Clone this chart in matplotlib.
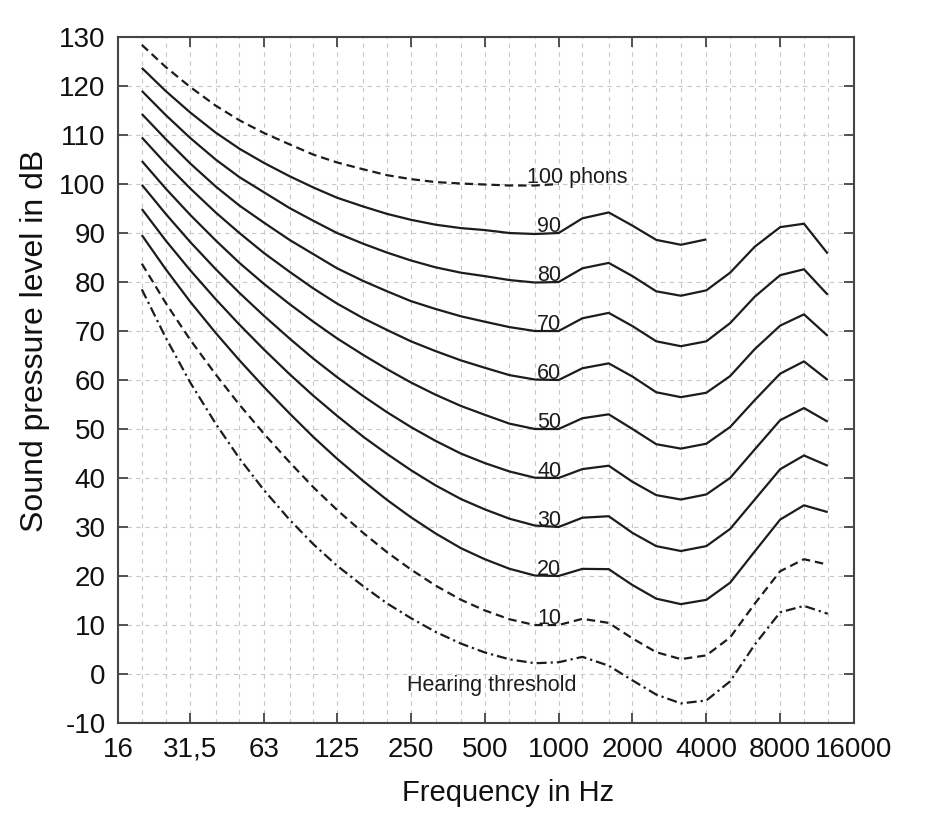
import matplotlib

matplotlib.use("Agg")
import matplotlib.pyplot as plt
from matplotlib.ticker import FixedLocator, NullFormatter

plt.rcParams["font.family"] = ["Liberation Sans", "DejaVu Sans"]
plt.rcParams["axes.unicode_minus"] = False

# third-octave band centres (Hz)
freqs = [20, 25, 31.5, 40, 50, 63, 80, 100, 125, 160, 200, 250, 315, 400, 500,
         630, 800, 1000, 1250, 1600, 2000, 2500, 3150, 4000, 5000, 6300, 8000,
         10000, 12500]

# equal-loudness contours, dB SPL
phon_100 = [128.4, 123.9, 119.8, 116.0, 113.0, 110.4, 108.1, 106.0, 104.4, 103.0,
            101.8, 101.0, 100.4, 100.1, 99.9, 99.7, 99.7, 100.0]
phon_90 = [123.7, 119.0, 114.6, 110.5, 107.2, 104.3, 101.6, 99.3, 97.2, 95.4, 93.9,
           92.7, 91.7, 91.0, 90.6, 90.0, 89.8, 90.0, 93.0, 94.2, 91.5, 88.6, 87.6, 88.7]
phon_80 = [119.0, 114.1, 109.4, 105.0, 101.4, 98.3, 95.1, 92.5, 90.0, 87.8, 86.0,
           84.4, 83.0, 81.9, 81.2, 80.4, 79.9, 80.0, 82.8, 83.9, 81.2, 78.1, 77.2,
           78.3, 81.9, 87.2, 91.2, 91.9, 85.8]
phon_70 = [114.3, 109.2, 104.2, 99.5, 95.6, 92.1, 88.6, 85.7, 82.8, 80.2, 78.1,
           76.1, 74.5, 73.0, 71.9, 70.8, 70.0, 70.0, 72.6, 73.7, 71.0, 67.9, 66.9,
           67.9, 71.6, 77.0, 81.4, 82.6, 77.4]
phon_60 = [109.5, 104.2, 99.1, 94.2, 90.0, 85.9, 82.1, 78.7, 75.6, 72.6, 70.2,
           67.9, 65.9, 64.0, 62.5, 61.0, 60.1, 60.0, 62.4, 63.4, 60.7, 57.5, 56.5,
           57.4, 60.8, 66.3, 71.1, 73.4, 69.0]
phon_50 = [104.7, 99.1, 93.7, 88.5, 83.9, 79.6, 75.5, 71.9, 68.5, 65.1, 62.2,
           59.5, 57.0, 54.7, 52.9, 51.1, 50.0, 50.0, 52.2, 53.0, 50.0, 46.9, 46.0,
           47.0, 50.4, 55.9, 61.3, 63.8, 60.0]
phon_40 = [99.85, 93.94, 88.17, 82.63, 77.78, 73.08, 68.48, 64.37, 60.59, 56.70,
           53.41, 50.40, 47.58, 44.98, 43.05, 41.34, 40.06, 40.01, 41.82, 42.51,
           39.23, 36.51, 35.61, 36.65, 40.01, 45.83, 51.80, 54.28, 51.49]
phon_30 = [94.9, 88.5, 82.4, 76.5, 71.3, 66.2, 61.2, 56.8, 52.7, 48.4, 44.9,
           41.6, 38.5, 35.7, 33.6, 31.7, 30.3, 30.0, 31.9, 32.2, 28.8, 26.1, 25.1,
           26.1, 29.6, 35.6, 41.8, 44.6, 42.5]
phon_20 = [89.58, 82.65, 75.98, 69.62, 64.02, 58.55, 53.19, 48.38, 43.94, 39.37,
           35.51, 31.99, 28.69, 25.67, 23.43, 21.48, 20.10, 20.01, 21.46, 21.40,
           18.15, 15.38, 14.26, 15.14, 18.63, 25.02, 31.52, 34.43, 33.04]
phon_10 = [83.75, 75.76, 68.21, 61.14, 54.96, 49.01, 43.24, 38.13, 33.48, 28.77,
           24.84, 21.33, 18.05, 15.14, 12.98, 11.18, 9.99, 10.00, 11.26, 10.43,
           7.27, 4.45, 3.04, 3.80, 7.46, 14.35, 20.98, 23.43, 22.33]
threshold = [78.5, 68.7, 59.5, 51.1, 44.0, 37.5, 31.5, 26.5, 22.1, 17.9, 14.4,
             11.4, 8.6, 6.2, 4.4, 3.0, 2.2, 2.4, 3.5, 1.7, -1.3, -4.2, -6.0, -5.4,
             -1.5, 6.0, 12.6, 13.9, 12.3]

x_ticks = [16, 31.5, 63, 125, 250, 500, 1000, 2000, 4000, 8000, 16000]
x_labels = ["16", "31,5", "63", "125", "250", "500", "1000", "2000", "4000",
            "8000", "16000"]
y_ticks = list(range(-10, 131, 10))

contour_labels = ["90", "80", "70", "60", "50", "40", "30", "20", "10"]
contour_levels = [90, 80, 70, 60, 50, 40, 30, 20, 10]

ink = "#1c1c1c"
axis_col = "#454545"

fig = plt.figure(figsize=(9.28, 8.32), dpi=100)
ax = fig.add_axes([0.1272, 0.1310, 0.7931, 0.8245])

ax.set_xscale("log")
ax.set_xlim(16, 16000)
ax.set_ylim(-10, 130)

# grid on every third-octave band and every 10 dB
ax.xaxis.set_major_locator(FixedLocator(x_ticks))
ax.set_xticklabels(x_labels)
ax.xaxis.set_minor_locator(FixedLocator(freqs))
ax.xaxis.set_minor_formatter(NullFormatter())
ax.set_yticks(y_ticks)
ax.grid(True, which="both", color="#c8c8c8", linestyle=(0, (4, 4)), linewidth=0.8)
ax.set_axisbelow(True)

solid = dict(color=ink, linewidth=1.6, solid_capstyle="butt")
ax.plot(freqs[:len(phon_100)], phon_100, color=ink, linewidth=1.6,
        linestyle=(0, (3.8, 2.2)))
ax.plot(freqs[:len(phon_90)], phon_90, **solid)
for row in (phon_80, phon_70, phon_60, phon_50, phon_40, phon_30, phon_20):
    ax.plot(freqs, row, **solid)
ax.plot(freqs, phon_10, color=ink, linewidth=1.6, linestyle=(0, (3.8, 2.2)))
ax.plot(freqs, threshold, color=ink, linewidth=1.6,
        linestyle=(0, (4.5, 1.8, 1.0, 1.8)))

lab_font = dict(fontsize=15.5, color=ink)
ax.text(740, 100.2, "100 phons", ha="left", va="baseline", **lab_font)
for txt, lvl in zip(contour_labels, contour_levels):
    ax.text(915, lvl + 0.2, txt, ha="center", va="baseline", **lab_font)
ax.text(240, -3.4, "Hearing threshold", ha="left", va="baseline", **lab_font)

for side in ("left", "right", "top", "bottom"):
    ax.spines[side].set_color(axis_col)
    ax.spines[side].set_linewidth(1.5)
ax.tick_params(which="major", direction="in", length=7, width=1.3, color=axis_col,
               top=True, right=True, labelsize=20, labelcolor="#111111")
ax.tick_params(axis="x", which="major", pad=10)
ax.tick_params(axis="y", which="major", pad=9)
ax.tick_params(which="minor", length=0)

ax.set_xlabel("Frequency in Hz", fontsize=21, color="#111111")
ax.set_ylabel("Sound pressure level in dB", fontsize=23, color="#111111")
ax.xaxis.set_label_coords(0.53, -0.082)
ax.yaxis.set_label_coords(-0.092, 0.557)

fig.savefig("out.png", dpi=100)
